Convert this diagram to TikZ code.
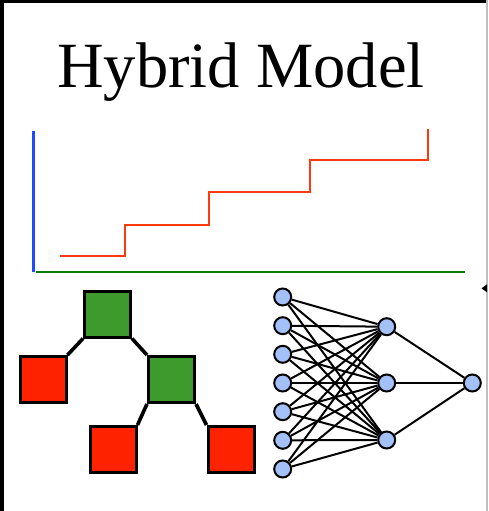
\documentclass[tikz,border=0pt]{standalone}
\usepackage{fontspec}
\setmainfont{Liberation Serif}
\definecolor{treegreen}{HTML}{3E9A2C}
\definecolor{treered}{HTML}{FF2200}
\definecolor{stepred}{HTML}{FF3A0A}
\definecolor{axisblue}{HTML}{1E4BFF}
\definecolor{axisgreen}{HTML}{0A7A0A}
\definecolor{neuron}{HTML}{A3C0F8}
\begin{document}
\begin{tikzpicture}[x=1pt,y=-1pt,
  sq/.style={draw=black,line width=3pt,minimum size=46pt,inner sep=0pt},
  gsq/.style={sq,fill=treegreen},
  rsq/.style={sq,fill=treered},
  link/.style={line width=3.6pt,black},
  neu/.style={circle,draw=black,line width=2pt,fill=neuron,minimum size=17pt,inner sep=0pt},
  syn/.style={line width=2pt,black}]
\useasboundingbox (0,0) rectangle (488,511);
\fill[white] (0,0) rectangle (488,511);
% frame
\draw[line width=3.6pt,black] (1.8,511) -- (1.8,1.2) -- (487,1.2);
\draw[line width=1.2pt,black!25] (487,0) -- (487,511);
% title
\node[anchor=base,font=\fontsize{64.5}{70}\selectfont,inner sep=0pt] (title) at (241,88) {Hybrid Model};
% axes
\coordinate (ytop) at (33.5,131);
\coordinate (orig) at (33.5,272);
\coordinate (xend) at (465,272);
\draw[axisblue,line width=2.4pt] (ytop) -- (orig);
\draw[axisgreen,line width=2.8pt] (36,272) -- (xend);
% step line
\coordinate (s0) at (60,256);
\coordinate (s1) at (428,129);
\draw[stepred,line width=2.6pt] (s0) -- (125,256) -- (125,225) -- (209,225) -- (209,192) -- (310,192) -- (310,160) -- (428,160) -- (s1);
% tree
\node[gsq] (t1) at (107.5,314) {};
\node[rsq] (l1) at (43,379.5) {};
\node[gsq] (t2) at (171.5,379.5) {};
\node[rsq] (l2) at (113,449.5) {};
\node[rsq] (l3) at (231,449.5) {};
\draw[link] (t1.south west) -- (l1.north east);
\draw[link] (t1.south east) -- (t2.north west);
\draw[link] (t2.south west) -- (l2.north east);
\draw[link] (t2.south east) -- (l3.north west);
% neural net
\foreach \i/\y in {1/297,2/325.7,3/354.3,4/383,5/411.7,6/440.3,7/469} {
  \node[neu] (i\i) at (282.7,\y) {};
}
\node[neu] (h1) at (386.7,326.7) {};
\node[neu] (h2) at (386.7,383) {};
\node[neu] (h3) at (386.7,440) {};
\node[neu] (o1) at (472.3,383) {};
\foreach \i in {1,...,7} {
  \foreach \h in {1,2,3} {
    \draw[syn] (i\i) -- (h\h);
  }
}
\foreach \h in {1,2,3} {
  \draw[syn] (h\h) -- (o1);
}
% stray arrow tip
\coordinate (tip) at (481.5,288.3);
\fill[black] (tip) -- ++(5.5,-4) -- ++(0,8) -- cycle;
\end{tikzpicture}
\end{document}
